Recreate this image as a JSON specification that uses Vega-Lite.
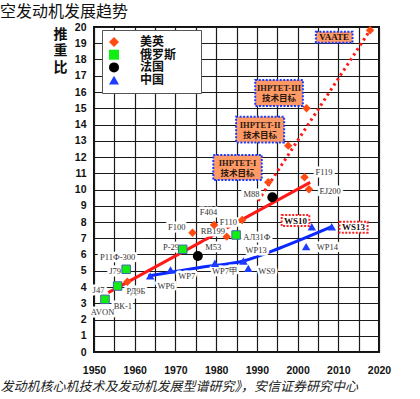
{
  "$schema": "https://vega.github.io/schema/vega-lite/v6.json",
  "autosize": {"type": "none"},
  "width": 285,
  "height": 325,
  "padding": {"left": 94, "top": 27, "right": 41, "bottom": 47},
  "background": "white",
  "title": {"text": "空发动机发展趋势", "anchor": "start", "frame": "group", "dx": -94, "offset": 2, "fontSize": 16, "font": "Noto Sans CJK SC", "fontWeight": "normal", "color": "#111"},
  "config": {
    "view": {"stroke": "#111", "strokeWidth": 2},
    "axis": {"gridColor": "#1a1a1a", "gridWidth": 1.2, "gridOpacity": 1, "domain": false, "ticks": false, "labelColor": "#111", "labelFont": "Liberation Sans", "labelFontWeight": "bold"}
  },
  "datasets": {
    "engines": [
      {"country": "美英", "year": 1958.2, "v": 4.33},
      {"country": "美英", "year": 1974.2, "v": 7.34},
      {"country": "美英", "year": 1979.5, "v": 7.82},
      {"country": "美英", "year": 1982.6, "v": 7.10},
      {"country": "美英", "year": 1986.4, "v": 8.12},
      {"country": "美英", "year": 1992.8, "v": 10.44},
      {"country": "美英", "year": 2001.7, "v": 10.75},
      {"country": "美英", "year": 2002.8, "v": 10.01},
      {"country": "美英", "year": 1997.7, "v": 12.7},
      {"country": "美英", "year": 2002.2, "v": 15.0},
      {"country": "美英", "year": 2017.8, "v": 19.8},
      {"country": "俄罗斯", "year": 1952.7, "v": 3.24},
      {"country": "俄罗斯", "year": 1955.8, "v": 4.06},
      {"country": "俄罗斯", "year": 1957.9, "v": 5.09},
      {"country": "俄罗斯", "year": 1971.8, "v": 6.32},
      {"country": "俄罗斯", "year": 1984.9, "v": 7.2},
      {"country": "法国", "year": 1975.5, "v": 5.91},
      {"country": "法国", "year": 1993.8, "v": 9.52},
      {"country": "中国", "year": 1963.8, "v": 4.68},
      {"country": "中国", "year": 1968.8, "v": 5.05},
      {"country": "中国", "year": 1979.7, "v": 5.46},
      {"country": "中国", "year": 1986.7, "v": 5.6},
      {"country": "中国", "year": 1987.9, "v": 5.15},
      {"country": "中国", "year": 2003.5, "v": 7.71},
      {"country": "中国", "year": 2008.4, "v": 7.71},
      {"country": "中国", "year": 2002.1, "v": 6.48}
    ],
    "labels": [
      {"t": "J47", "year": 1951.1, "v": 3.8},
      {"t": "AVON", "year": 1952.1, "v": 2.48},
      {"t": "ВК-1", "year": 1957.1, "v": 2.83},
      {"t": "J79", "year": 1955.2, "v": 5.0},
      {"t": "Р11Ф-300", "year": 1955.8, "v": 5.86},
      {"t": "РД9Б", "year": 1960.3, "v": 3.77},
      {"t": "Р-29", "year": 1968.9, "v": 6.48},
      {"t": "F100", "year": 1970.3, "v": 7.71},
      {"t": "F404", "year": 1978.1, "v": 8.63},
      {"t": "RB199", "year": 1979.2, "v": 7.45},
      {"t": "M53", "year": 1979.3, "v": 6.48},
      {"t": "WP6", "year": 1967.7, "v": 4.06},
      {"t": "WP7", "year": 1972.8, "v": 4.68},
      {"t": "WP7甲", "year": 1982.2, "v": 5.0},
      {"t": "F110", "year": 1983.0, "v": 8.02},
      {"t": "M88", "year": 1988.7, "v": 9.7},
      {"t": "АЛ31Ф", "year": 1990.0, "v": 7.1},
      {"t": "WP13", "year": 1989.8, "v": 6.28},
      {"t": "WS9", "year": 1992.4, "v": 4.98},
      {"t": "F119", "year": 2006.5, "v": 11.1},
      {"t": "EJ200", "year": 2008.0, "v": 9.91},
      {"t": "WP14", "year": 2007.3, "v": 6.44}
    ],
    "boxes": [
      {"kind": "plan", "lines": 2, "t": "IHPTET-I\n技术目标", "x1": 1979.3, "x2": 1991.2, "y1": 10.58, "y2": 12.12},
      {"kind": "plan", "lines": 2, "t": "IHPTET-II\n技术目标", "x1": 1984.9, "x2": 1996.7, "y1": 12.9, "y2": 14.48},
      {"kind": "plan", "lines": 2, "t": "IHPTET-III\n技术目标", "x1": 1989.6, "x2": 2001.3, "y1": 15.14, "y2": 16.74},
      {"kind": "plan", "lines": 1, "t": "VAATE", "x1": 2004.5, "x2": 2013.5, "y1": 19.03, "y2": 19.71},
      {"kind": "ws", "lines": 1, "t": "WS10", "x1": 1996.1, "x2": 2002.9, "y1": 7.75, "y2": 8.43},
      {"kind": "ws", "lines": 1, "t": "WS13", "x1": 2010.3, "x2": 2017.2, "y1": 7.34, "y2": 8.02}
    ],
    "lines": [
      {"s": "red", "year": 1953.5, "v": 3.65},
      {"s": "red", "year": 2003.1, "v": 10.44},
      {"s": "dot", "year": 1990.3, "v": 9.3},
      {"s": "dot", "year": 2017.8, "v": 19.8},
      {"s": "blue", "year": 1963.3, "v": 4.68},
      {"s": "blue", "year": 1976.0, "v": 5.2},
      {"s": "blue", "year": 1986.7, "v": 5.6},
      {"s": "blue", "year": 1995.7, "v": 6.4},
      {"s": "blue", "year": 2008.4, "v": 7.71}
    ]
  },
  "encoding": {
    "x": {"field": "year", "type": "quantitative", "scale": {"domain": [1950, 2020], "nice": false, "zero": false},
      "axis": {"values": [1950,1955,1960,1965,1970,1975,1980,1985,1990,1995,2000,2005,2010,2015,2020], "labelExpr": "datum.value % 10 == 0 ? datum.label : ''", "format": "d", "labelFontSize": 10.5, "labelPadding": 13, "labelFlush": false,
        "title": "发动机核心机技术及发动机发展型谱研究》，安信证券研究中心", "titleFont": "Noto Sans CJK SC", "titleFontSize": 13, "titleFontWeight": "normal", "titleFontStyle": "italic", "titleColor": "#222", "titleAnchor": "start", "titleAlign": "left", "titleX": -94, "titleY": 34, "titleBaseline": "middle"}},
    "y": {"field": "v", "type": "quantitative", "scale": {"domain": [0, 20], "nice": false},
      "axis": {"values": [0,1,2,3,4,5,6,7,8,9,10,11,12,13,14,15,16,17,18,19,20], "labelFontSize": 10.5, "labelPadding": 8, "labelFlush": false,
        "title": ["推", "重", "比"], "titleAngle": 0, "titleFont": "Noto Sans CJK SC", "titleFontSize": 14, "titleFontWeight": "bold", "titleColor": "#111", "titleAlign": "center", "titleBaseline": "top", "titleX": -34, "titleY": 0, "titleLineHeight": 16.5}}
  },
  "layer": [
    {"data": {"name": "boxes"}, "transform": [{"filter": "datum.kind == 'plan'"}],
      "mark": {"type": "rect", "fill": "#FF9966", "stroke": "#1a3cff", "strokeWidth": 2, "strokeDash": [2, 1.5]},
      "encoding": {"x": {"field": "x1", "type": "quantitative"}, "x2": {"field": "x2"}, "y": {"field": "y1", "type": "quantitative"}, "y2": {"field": "y2"}}},
    {"data": {"name": "boxes"}, "transform": [{"filter": "datum.kind == 'ws'"}],
      "mark": {"type": "rect", "fill": "white", "stroke": "#FF2020", "strokeWidth": 2, "strokeDash": [2, 1.5]},
      "encoding": {"x": {"field": "x1", "type": "quantitative"}, "x2": {"field": "x2"}, "y": {"field": "y1", "type": "quantitative"}, "y2": {"field": "y2"}}},
    {"data": {"name": "lines"}, "transform": [{"filter": "datum.s == 'red'"}],
      "mark": {"type": "line", "color": "#FF1A1A", "strokeWidth": 3},
      "encoding": {}},
    {"data": {"name": "lines"}, "transform": [{"filter": "datum.s == 'dot'"}],
      "mark": {"type": "line", "color": "#FF1A1A", "strokeWidth": 3, "strokeDash": [2.5, 3.5]},
      "encoding": {}},
    {"data": {"name": "lines"}, "transform": [{"filter": "datum.s == 'blue'"}],
      "mark": {"type": "line", "color": "#0A28FF", "strokeWidth": 3, "interpolate": "monotone"},
      "encoding": {}},
    {"data": {"name": "labels"},
      "mark": {"type": "text", "font": "Liberation Serif", "fontSize": 8.5, "stroke": "white", "strokeWidth": 5, "strokeJoin": "round", "fill": "white"},
      "encoding": {"text": {"field": "t"}}},
    {"data": {"name": "labels"},
      "mark": {"type": "text", "font": "Liberation Serif", "fontSize": 8.5, "color": "#333"},
      "encoding": {"text": {"field": "t"}}},
    {"data": {"name": "engines"},
      "mark": {"type": "point", "filled": true, "opacity": 1, "size": 72},
      "encoding": {
        "color": {"field": "country", "type": "nominal", "scale": {"domain": ["美英", "俄罗斯", "法国", "中国"], "range": ["#FF4A12", "#11EE11", "#000000", "#1E3CFF"]},
          "legend": {"title": null, "orient": "none", "legendX": 8, "legendY": 3, "fillColor": "white", "strokeColor": "#555", "padding": 6, "labelFont": "Noto Sans CJK SC", "labelFontSize": 12, "labelFontWeight": "bold", "labelColor": "#111", "rowPadding": 0.7, "labelOffset": 20, "symbolSize": 100, "labelExpr": "datum.label + '\u3000\u2002\u200b'"}},
        "shape": {"field": "country", "type": "nominal", "scale": {"domain": ["美英", "俄罗斯", "法国", "中国"], "range": ["diamond", "square", "circle", "triangle-up"]},
          "legend": {"title": null, "orient": "none", "legendX": 8, "legendY": 3, "fillColor": "white", "strokeColor": "#555", "padding": 6, "labelFont": "Noto Sans CJK SC", "labelFontSize": 12, "labelFontWeight": "bold", "labelColor": "#111", "rowPadding": 0.7, "labelOffset": 20, "symbolSize": 100, "labelExpr": "datum.label + '\u3000\u2002\u200b'"}}
      }},
    {"data": {"name": "engines"}, "transform": [{"filter": "datum.country == '俄罗斯'"}],
      "mark": {"type": "point", "shape": "square", "filled": false, "size": 72, "stroke": "#4466AA", "strokeWidth": 1, "opacity": 1},
      "encoding": {}},
    {"data": {"name": "engines"}, "transform": [{"filter": "datum.country == '法国'"}],
      "mark": {"type": "point", "shape": "circle", "filled": true, "size": 100, "color": "#000000", "opacity": 1},
      "encoding": {}},
    {"data": {"name": "boxes"}, "transform": [{"filter": "datum.lines == 2"}, {"calculate": "(datum.x1 + datum.x2) / 2", "as": "cx"}, {"calculate": "(datum.y1 + datum.y2) / 2", "as": "cy"}],
      "mark": {"type": "text", "font": "Liberation Serif, Noto Sans CJK SC", "fontSize": 8.5, "fontWeight": "bold", "color": "#2a1a10", "lineBreak": "\n", "lineHeight": 10.5, "baseline": "middle", "dy": -5},
      "encoding": {"x": {"field": "cx", "type": "quantitative"}, "y": {"field": "cy", "type": "quantitative"}, "text": {"field": "t"}}},
    {"data": {"name": "boxes"}, "transform": [{"filter": "datum.lines == 1"}, {"calculate": "(datum.x1 + datum.x2) / 2", "as": "cx"}, {"calculate": "(datum.y1 + datum.y2) / 2", "as": "cy"}],
      "mark": {"type": "text", "font": "Liberation Serif", "fontSize": 9, "fontWeight": "bold", "color": "#1a1010", "baseline": "middle"},
      "encoding": {"x": {"field": "cx", "type": "quantitative"}, "y": {"field": "cy", "type": "quantitative"}, "text": {"field": "t"}}}
  ]
}
